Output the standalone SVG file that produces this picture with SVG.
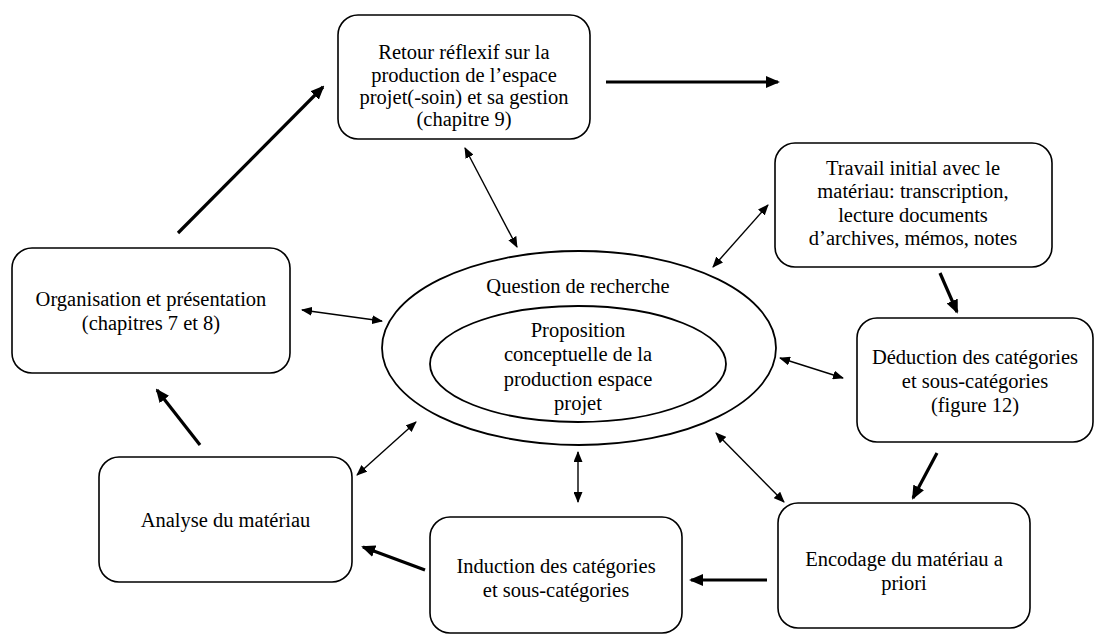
<svg xmlns="http://www.w3.org/2000/svg" width="1097" height="636" viewBox="0 0 1097 636">
  <style>
    .box { fill: #fff; stroke: #000; stroke-width: 1.6; }
    .ell { fill: none; stroke: #000; stroke-width: 1.8; }
    text { font-family: "Liberation Serif", "Times New Roman", serif; font-size: 20.5px; fill: #000; text-anchor: middle; }
    .thin { stroke: #000; stroke-width: 1.4; fill: none; marker-end: url(#ah); marker-start: url(#ah); }
    .thick { stroke: #000; stroke-width: 3.2; fill: none; marker-end: url(#ahb); }
  </style>
  <defs>
    <marker id="ah" markerUnits="userSpaceOnUse" markerWidth="11" markerHeight="9" refX="10" refY="4.5" orient="auto-start-reverse">
      <path d="M0,0 L11,4.5 L0,9 z" fill="#000"/>
    </marker>
    <marker id="ahb" markerUnits="userSpaceOnUse" markerWidth="14" markerHeight="12" refX="12" refY="6" orient="auto">
      <path d="M0,0 L14,6 L0,12 z" fill="#000"/>
    </marker>
  </defs>

  <rect width="1097" height="636" fill="#fff"/>

  <!-- central research question with the conceptual proposition nested inside -->
  <g id="question">
    <ellipse class="ell" cx="579" cy="348" rx="197" ry="97"/>
    <text x="578" y="293">Question de recherche</text>
  </g>
  <g id="proposition">
    <ellipse class="ell" cx="578" cy="364" rx="148" ry="58"/>
    <text x="578" y="337">Proposition</text>
    <text x="578" y="361">conceptuelle de la</text>
    <text x="578" y="386">production espace</text>
    <text x="578" y="410">projet</text>
  </g>

  <g id="retour">
    <rect class="box" x="338" y="15" width="252" height="124" rx="20"/>
    <text x="464" y="59">Retour réflexif sur la</text>
    <text x="464" y="82">production de l’espace</text>
    <text x="464" y="104">projet(-soin) et sa gestion</text>
    <text x="464" y="126">(chapitre 9)</text>
  </g>

  <g id="travail">
    <rect class="box" x="775" y="143" width="277" height="124" rx="20"/>
    <text x="913" y="175">Travail initial avec le</text>
    <text x="913" y="198">matériau: transcription,</text>
    <text x="913" y="222">lecture documents</text>
    <text x="913" y="245">d’archives, mémos, notes</text>
  </g>

  <g id="deduction">
    <rect class="box" x="857" y="318" width="236" height="124" rx="20"/>
    <text x="975" y="364">Déduction des catégories</text>
    <text x="975" y="388">et sous-catégories</text>
    <text x="975" y="412">(figure 12)</text>
  </g>

  <g id="encodage">
    <rect class="box" x="778" y="503" width="252" height="125" rx="20"/>
    <text x="904" y="566">Encodage du matériau a</text>
    <text x="904" y="590">priori</text>
  </g>

  <g id="induction">
    <rect class="box" x="430" y="517" width="252" height="116" rx="20"/>
    <text x="556" y="573">Induction des catégories</text>
    <text x="556" y="597">et sous-catégories</text>
  </g>

  <g id="analyse">
    <rect class="box" x="99" y="457" width="253" height="125" rx="20"/>
    <text x="225.5" y="527">Analyse du matériau</text>
  </g>

  <g id="organisation">
    <rect class="box" x="12" y="248" width="278" height="125" rx="20"/>
    <text x="151" y="306">Organisation et présentation</text>
    <text x="151" y="330">(chapitres 7 et 8)</text>
  </g>

  <!-- connectors: thick arrows for the cycle, thin two-way arrows to the centre -->
  <g id="connectors">
    <line class="thick" x1="606" y1="82" x2="778" y2="82"/>
    <line class="thick" x1="940" y1="273" x2="957" y2="312"/>
    <line class="thick" x1="937" y1="453" x2="913" y2="498"/>
    <line class="thick" x1="767" y1="580" x2="691" y2="580"/>
    <line class="thick" x1="425" y1="570" x2="363" y2="547"/>
    <line class="thick" x1="200" y1="445" x2="157" y2="390"/>
    <line class="thick" x1="178" y1="233" x2="323" y2="87"/>

    <line class="thin" x1="465" y1="148" x2="517" y2="247"/>
    <line class="thin" x1="768" y1="205" x2="713" y2="267"/>
    <line class="thin" x1="780" y1="358" x2="843" y2="378"/>
    <line class="thin" x1="716" y1="433" x2="784" y2="502"/>
    <line class="thin" x1="578" y1="452" x2="578" y2="502"/>
    <line class="thin" x1="357" y1="475" x2="416" y2="422"/>
    <line class="thin" x1="302" y1="310" x2="382" y2="321"/>
  </g>
</svg>
